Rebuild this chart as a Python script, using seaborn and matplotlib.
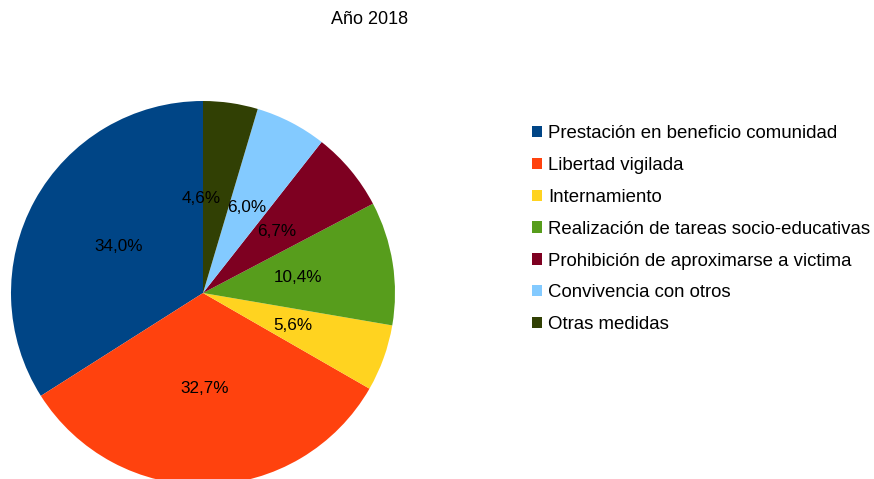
import matplotlib
matplotlib.use("Agg")
import matplotlib.pyplot as plt
import seaborn as sns

# data
categories = [
    "Prestación en beneficio comunidad",
    "Libertad vigilada",
    "Internamiento",
    "Realización de tareas socio-educativas",
    "Prohibición de aproximarse a victima",
    "Convivencia con otros",
    "Otras medidas",
]
shares = [34.0, 32.7, 5.6, 10.4, 6.7, 6.0, 4.6]
colors = ["#004586", "#ff420e", "#ffd320", "#579d1c", "#7e0021", "#83caff", "#314004"]

sns.set_theme(style="white")
plt.rcParams["font.family"] = ["Liberation Sans", "DejaVu Sans"]
plt.rcParams["text.color"] = "black"

W, H = 874, 479
fig = plt.figure(figsize=(W / 100, H / 100), dpi=100)

# pie axes: centre (203, 293) px, radius 192 px
cx, cy, r = 203, 293, 192
ax = fig.add_axes([(cx - r) / W, (H - cy - r) / H, 2 * r / W, 2 * r / H])

wedges, _, autotexts = ax.pie(
    shares,
    colors=sns.color_palette(colors),
    startangle=90,
    counterclock=True,
    autopct=lambda p: f"{p:.1f}%".replace(".", ","),
    pctdistance=0.5,
    radius=1,
    wedgeprops=dict(linewidth=0),
    textprops=dict(fontsize=12.3, color="black"),
)
# the smallest label sits a bit to the left, as in the original
x, y = autotexts[-1].get_position()
autotexts[-1].set_position((x - 0.083, y))

ax.set_xlim(-1, 1)
ax.set_ylim(-1, 1)
ax.set_aspect("equal")
ax.axis("off")

fig.text(370 / W, 1 - 20 / H, "Año 2018", ha="center", va="center", fontsize=13, color="black")

leg = fig.legend(
    wedges, categories,
    loc="upper left",
    bbox_to_anchor=(532 / W, 1 - 125 / H),
    frameon=False,
    fontsize=13.4,
    labelcolor="black",
    handlelength=0.55,
    handleheight=0.55,
    handletextpad=0.32,
    labelspacing=0.8,
    borderpad=0,
    borderaxespad=0,
)

fig.savefig("out.png", dpi=100)
